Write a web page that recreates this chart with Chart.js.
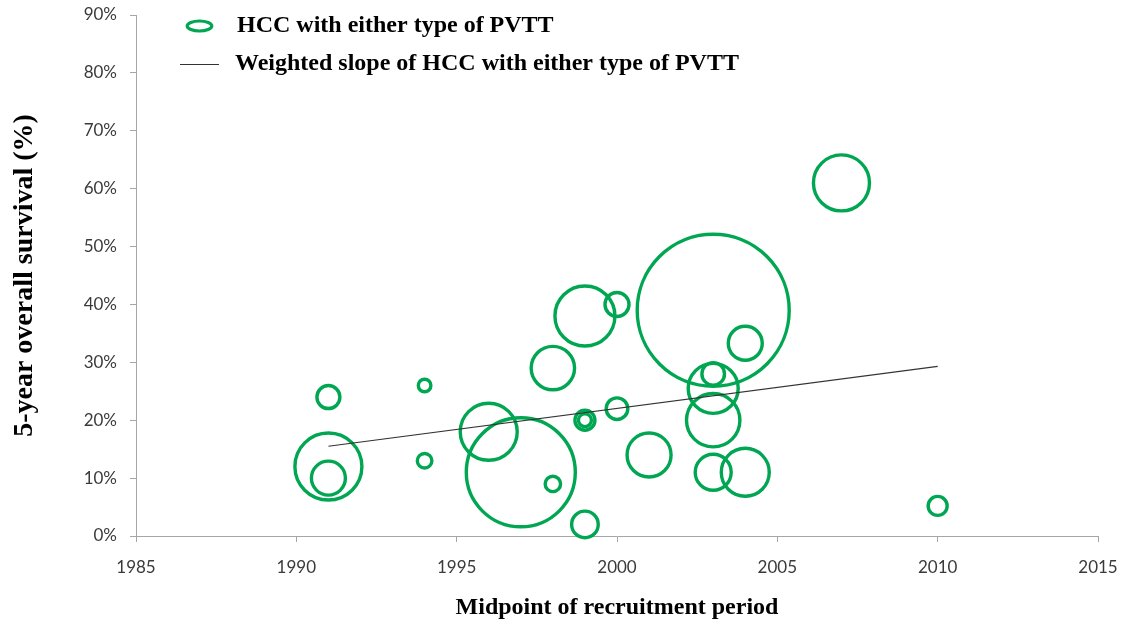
<!DOCTYPE html>
<html>
<head>
<meta charset="utf-8">
<script src="https://cdn.jsdelivr.net/npm/chart.js@4/dist/chart.umd.min.js"></script>
<style>
  html, body { margin: 0; padding: 0; background: #ffffff; }
  #wrap { position: relative; width: 1124px; height: 625px; }
</style>
</head>
<body>
<div id="wrap"><canvas id="c"></canvas></div>
<script>
// ---- data ----
const studyYears   = [1991, 1991, 1991, 1994, 1994, 1996, 1997, 1998, 1998, 1999, 1999, 1999, 1999, 2000, 2000, 2001, 2003, 2003, 2003, 2003, 2003, 2004, 2004, 2007, 2010];
const survivalPct  = [24, 12, 10, 26, 13, 18, 11, 9, 29, 38, 20, 20, 2, 40, 22, 14, 39, 28, 25.5, 20, 11, 33.3, 11, 61, 5.2];
const bubbleSize   = [11.5, 33.5, 17, 6.3, 7.3, 28.5, 54.5, 7.7, 21.7, 30, 10, 6.5, 13.3, 12, 10.8, 22, 76, 11.3, 25, 26.7, 18, 17, 24, 28, 9.5];

const trendYears   = [1991, 2010];
const trendPct     = [15.5, 29.3];

const xTicks = [1985, 1990, 1995, 2000, 2005, 2010, 2015];
const yTicks = [0, 10, 20, 30, 40, 50, 60, 70, 80, 90];

const seriesNames = ['HCC with either type of PVTT', 'Weighted slope of HCC with either type of PVTT'];
const xTitle = 'Midpoint of recruitment period';
const yTitle = '5-year overall survival (%)';

// ---- styles ----
const GREEN = '#00a651';
const AXIS = '#a6a6a6';
const TICKCOL = '#3a3a3a';

const bubbles = studyYears.map((x, i) => ({ x: x, y: survivalPct[i], r: bubbleSize[i] }));
const trend = trendYears.map((x, i) => ({ x: x, y: trendPct[i] }));

const legendPlugin = {
  id: 'customLegend',
  afterDraw(chart) {
    const ctx = chart.ctx;
    ctx.save();
    // bubble marker
    ctx.beginPath();
    ctx.ellipse(199.5, 26, 12.3, 5, 0, 0, Math.PI * 2);
    ctx.strokeStyle = GREEN;
    ctx.lineWidth = 3.2;
    ctx.stroke();
    // line marker
    ctx.beginPath();
    ctx.moveTo(180, 64.5);
    ctx.lineTo(219, 64.5);
    ctx.strokeStyle = '#333333';
    ctx.lineWidth = 1.2;
    ctx.stroke();
    ctx.fillStyle = '#000000';
    ctx.font = 'bold 24px "Liberation Serif", "Times New Roman", serif';
    ctx.textBaseline = 'middle';
    ctx.textAlign = 'left';
    ctx.fillText(seriesNames[0], 237, 26);
    ctx.fillText(seriesNames[1], 235, 64);
    ctx.restore();
  }
};

new Chart(document.getElementById('c'), {
  type: 'bubble',
  data: {
    datasets: [
      {
        type: 'bubble',
        label: seriesNames[0],
        data: bubbles,
        backgroundColor: 'rgba(0,0,0,0)',
        borderColor: GREEN,
        borderWidth: 3.4,
        hoverBorderWidth: 3.4,
        clip: false,
        order: 2
      },
      {
        type: 'line',
        label: seriesNames[1],
        data: trend,
        borderColor: '#333333',
        borderWidth: 1.2,
        pointRadius: 0,
        fill: false,
        tension: 0,
        order: 1
      }
    ]
  },
  options: {
    responsive: true,
    maintainAspectRatio: false,
    animation: false,
    devicePixelRatio: 1,
    layout: { autoPadding: false, padding: { top: 15, right: 26, left: 0, bottom: 0 } },
    plugins: {
      legend: { display: false },
      tooltip: { enabled: false }
    },
    scales: {
      x: {
        type: 'linear',
        min: xTicks[0],
        max: xTicks[xTicks.length - 1],
        afterBuildTicks(scale) { scale.ticks = xTicks.map(v => ({ value: v })); },
        afterFit(scale) {
          scale.height = 89;
          scale.paddingLeft = 0; scale.paddingRight = 0;
          scale.paddingTop = 0; scale.paddingBottom = 0;
        },
        ticks: {
          callback: (v) => String(v),
          font: { family: 'Lato, "Open Sans", sans-serif', size: 17 },
          color: TICKCOL,
          padding: 15,
          maxRotation: 0
        },
        grid: { display: true, drawOnChartArea: false, drawTicks: true, tickLength: 6, color: AXIS, lineWidth: 1 },
        border: { display: true, color: AXIS, width: 1 },
        title: {
          display: true,
          text: xTitle,
          color: '#000000',
          font: { family: '"Liberation Serif", "Times New Roman", serif', size: 24, weight: 'bold' },
          padding: { top: 0, bottom: 3 }
        }
      },
      y: {
        type: 'linear',
        min: yTicks[0],
        max: yTicks[yTicks.length - 1],
        afterBuildTicks(scale) { scale.ticks = yTicks.map(v => ({ value: v })); },
        afterFit(scale) {
          scale.width = 136;
          scale.paddingLeft = 0; scale.paddingRight = 0;
          scale.paddingTop = 0; scale.paddingBottom = 0;
        },
        ticks: {
          callback: (v) => v + '%',
          font: { family: 'Lato, "Open Sans", sans-serif', size: 17 },
          color: TICKCOL,
          padding: 13
        },
        grid: { display: true, drawOnChartArea: false, drawTicks: true, tickLength: 6, color: AXIS, lineWidth: 1 },
        border: { display: true, color: AXIS, width: 1 },
        title: {
          display: true,
          text: yTitle,
          color: '#000000',
          font: { family: '"Liberation Serif", "Times New Roman", serif', size: 28, weight: 'bold' },
          padding: { top: 8, bottom: 0 }
        }
      }
    }
  },
  plugins: [legendPlugin]
});
</script>
</body>
</html>
